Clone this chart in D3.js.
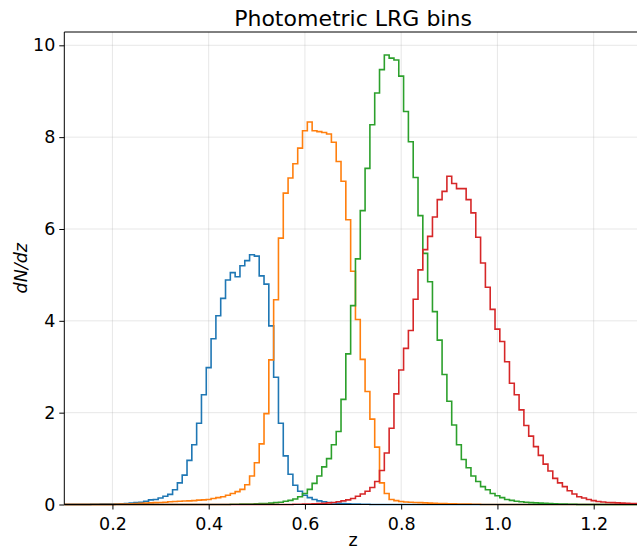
<!DOCTYPE html>
<html>
<head>
<meta charset="utf-8">
<script src="https://cdn.jsdelivr.net/npm/d3@7"></script>
<style>
  html, body { margin: 0; padding: 0; background: #fff; }
  svg { display: block; font-family: "DejaVu Sans", sans-serif; }
</style>
</head>
<body>
<svg id="chart" width="637" height="550"></svg>
<script>
// ---- Data (bin width 0.01; each series lists bin values starting at the given bin centre) ----
const binWidth = 0.01;
const seriesNames = ["bin 1", "bin 2", "bin 3", "bin 4"];
const seriesColors = ["#1f77b4", "#ff7f0e", "#2ca02c", "#d62728"];

const blueStart = 0.16;
const blueValues = [0.005, 0.005, 0.01, 0.01, 0.01, 0.01, 0.015, 0.02, 0.03, 0.04,
  0.05, 0.07, 0.10, 0.11, 0.14, 0.18, 0.22, 0.32, 0.47, 0.64,
  0.96, 1.30, 1.77, 2.39, 2.98, 3.61, 4.11, 4.49, 4.89, 5.05,
  4.96, 5.20, 5.31, 5.44, 5.41, 4.98, 4.80, 3.89, 2.77, 1.77,
  1.06, 0.66, 0.42, 0.29, 0.20, 0.15, 0.11, 0.08, 0.06, 0.045,
  0.035, 0.025, 0.02, 0.015, 0.01, 0.01, 0.005, 0.005];

const orangeStart = 0.21;
const orangeValues = [0.005, 0.01, 0.01, 0.015, 0.02, 0.025, 0.03, 0.035, 0.04, 0.045,
  0.05, 0.06, 0.065, 0.07, 0.075, 0.08, 0.085, 0.095, 0.10, 0.11,
  0.13, 0.15, 0.17, 0.20, 0.24, 0.28, 0.33, 0.43, 0.62, 0.91,
  1.32, 1.98, 3.15, 4.46, 5.80, 6.78, 7.11, 7.42, 7.76, 8.14,
  8.33, 8.14, 8.12, 8.10, 8.07, 7.89, 7.47, 7.04, 6.20, 5.08,
  4.03, 3.16, 2.46, 1.86, 1.25, 0.47, 0.24, 0.11, 0.085, 0.065,
  0.055, 0.05, 0.045, 0.04, 0.035, 0.03, 0.025, 0.02, 0.02, 0.015,
  0.015, 0.01, 0.01, 0.01, 0.005, 0.005];

const greenStart = 0.45;
const greenValues = [0.005, 0.005, 0.01, 0.01, 0.01, 0.015, 0.02, 0.02, 0.03, 0.04,
  0.05, 0.07, 0.09, 0.12, 0.17, 0.24, 0.33, 0.46, 0.62, 0.82,
  1.00, 1.30, 1.59, 2.29, 3.28, 4.33, 5.35, 6.40, 7.32, 8.27,
  8.96, 9.47, 9.79, 9.72, 9.68, 9.33, 8.56, 7.90, 7.12, 6.29,
  5.47, 4.85, 4.20, 3.58, 2.83, 2.25, 1.73, 1.30, 0.98, 0.80,
  0.62, 0.50, 0.39, 0.32, 0.24, 0.19, 0.15, 0.11, 0.09, 0.07,
  0.06, 0.05, 0.04, 0.035, 0.03, 0.025, 0.02, 0.015, 0.01, 0.01,
  0.005, 0.005];

const redStart = 0.58;
const redValues = [0.005, 0.005, 0.01, 0.01, 0.015, 0.02, 0.025, 0.035, 0.045, 0.06,
  0.08, 0.10, 0.13, 0.18, 0.23, 0.29, 0.37, 0.50, 0.74, 1.12,
  1.66, 2.41, 2.93, 3.40, 3.79, 4.47, 5.11, 5.55, 5.84, 6.26,
  6.64, 6.82, 7.15, 6.99, 6.88, 6.88, 6.64, 6.35, 5.82, 5.26,
  4.73, 4.25, 3.82, 3.55, 3.11, 2.64, 2.39, 2.06, 1.72, 1.49,
  1.26, 1.07, 0.88, 0.73, 0.57, 0.47, 0.39, 0.30, 0.23, 0.17,
  0.14, 0.11, 0.085, 0.065, 0.055, 0.045, 0.04, 0.035, 0.03, 0.025,
  0.02, 0.02, 0.015];

const xTicks = [0.2, 0.4, 0.6, 0.8, 1.0, 1.2];
const yTicks = [0, 2, 4, 6, 8, 10];
const titleText = "Photometric LRG bins";
const xLabel = "z";
const yLabel = "dN/dz";

// ---- Layout ----
const W = 637, H = 550;
const plot = { left: 64.3, right: 641.8, top: 32, bottom: 504.5 };
const xDomain = [0.1, 1.3];
const yDomain = [0, 10.29];

const svg = d3.select("#chart");
const x = d3.scaleLinear().domain(xDomain).range([plot.left, plot.right]);
const y = d3.scaleLinear().domain(yDomain).range([plot.bottom, plot.top]);

svg.append("defs").append("clipPath").attr("id", "clip")
  .append("rect").attr("x", plot.left).attr("y", plot.top - 2)
  .attr("width", plot.right - plot.left).attr("height", plot.bottom - plot.top + 4);

// grid
const grid = svg.append("g");
grid.selectAll(".gx").data(xTicks).join("line")
  .attr("x1", d => x(d)).attr("x2", d => x(d))
  .attr("y1", plot.top).attr("y2", plot.bottom)
  .attr("stroke", "#b0b0b0").attr("stroke-opacity", 0.3).attr("stroke-width", 1);
grid.selectAll(".gy").data(yTicks).join("line")
  .attr("x1", plot.left).attr("x2", plot.right)
  .attr("y1", d => y(d)).attr("y2", d => y(d))
  .attr("stroke", "#b0b0b0").attr("stroke-opacity", 0.3).attr("stroke-width", 1);

// step histograms
function stepPoints(start, values) {
  const pts = [];
  const e0 = start - binWidth / 2;
  pts.push([xDomain[0], 0]);
  pts.push([e0, 0]);
  values.forEach((v, i) => {
    const a = e0 + i * binWidth, b = a + binWidth;
    pts.push([a, v]);
    pts.push([b, v]);
  });
  const eN = e0 + values.length * binWidth;
  pts.push([eN, 0]);
  pts.push([xDomain[1], 0]);
  return pts;
}
const series = [
  { start: blueStart, values: blueValues },
  { start: orangeStart, values: orangeValues },
  { start: greenStart, values: greenValues },
  { start: redStart, values: redValues }
];
const line = d3.line().x(d => x(d[0])).y(d => y(d[1]));
const lines = svg.append("g").attr("clip-path", "url(#clip)");
series.forEach((s, i) => {
  lines.append("path")
    .attr("d", line(stepPoints(s.start, s.values)))
    .attr("fill", "none")
    .attr("stroke", seriesColors[i])
    .attr("stroke-width", 1.6)
    .attr("stroke-linejoin", "miter")
    .attr("stroke-linecap", "butt");
});

// axes
const xAxis = d3.axisBottom(x).tickValues(xTicks).tickFormat(d3.format(".1f"))
  .tickSize(5).tickPadding(4);
const yAxis = d3.axisLeft(y).tickValues(yTicks).tickFormat(d3.format("d"))
  .tickSize(5).tickPadding(4);

const gx = svg.append("g").attr("transform", `translate(0,${plot.bottom})`).call(xAxis);
const gy = svg.append("g").attr("transform", `translate(${plot.left},0)`).call(yAxis);
[gx, gy].forEach(g => {
  g.select(".domain").remove();
  g.selectAll(".tick line").attr("stroke", "#000").attr("stroke-width", 1);
  g.selectAll(".tick text").attr("fill", "#000")
    .style("font-family", "DejaVu Sans").style("font-size", "17.5px");
});
gx.selectAll(".tick text").attr("dy", "0.93em");

// spines
const spines = svg.append("g").attr("stroke", "#000").attr("stroke-width", 1).attr("fill", "none");
spines.append("line").attr("x1", plot.left).attr("x2", plot.left).attr("y1", plot.top).attr("y2", plot.bottom);
spines.append("line").attr("x1", plot.left).attr("x2", plot.right).attr("y1", plot.bottom).attr("y2", plot.bottom);
spines.append("line").attr("x1", plot.left).attr("x2", plot.right).attr("y1", plot.top).attr("y2", plot.top);
spines.append("line").attr("x1", plot.right).attr("x2", plot.right).attr("y1", plot.top).attr("y2", plot.bottom);

// title and labels
svg.append("text").attr("x", (plot.left + plot.right) / 2).attr("y", 26)
  .attr("text-anchor", "middle").style("font-size", "22px").attr("fill", "#000")
  .text(titleText);
svg.append("text").attr("x", (plot.left + plot.right) / 2).attr("y", 546)
  .attr("text-anchor", "middle").style("font-size", "17.5px").attr("fill", "#000")
  .text(xLabel);
svg.append("text").attr("transform", `translate(27,${(plot.top + plot.bottom) / 2}) rotate(-90)`)
  .attr("text-anchor", "middle").style("font-size", "17.5px").style("font-style", "italic")
  .attr("fill", "#000").text(yLabel);
</script>
</body>
</html>
